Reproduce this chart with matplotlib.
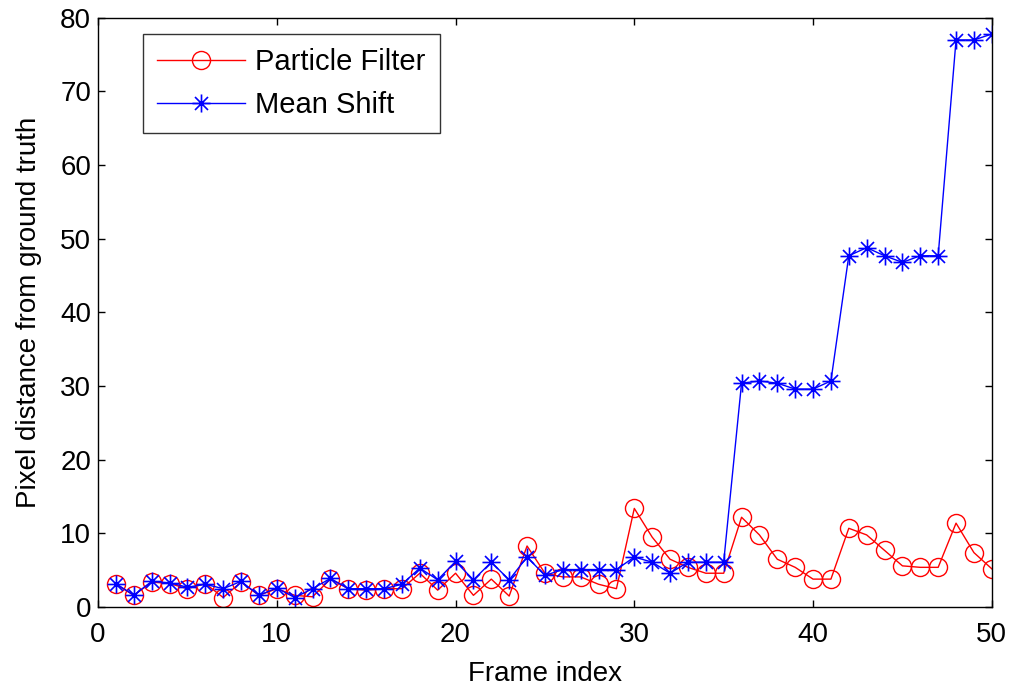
import matplotlib
matplotlib.use("Agg")
import matplotlib.pyplot as plt
from matplotlib.path import Path
import numpy as np

plt.rcParams["font.family"] = ["Liberation Sans", "DejaVu Sans"]

# ---- data ----
frames = np.arange(1, 51)
particle_filter = [3.1, 1.6, 3.4, 3.2, 2.5, 3.2, 1.3, 3.4, 1.6, 2.5,
                   1.6, 1.4, 3.8, 2.5, 2.3, 2.5, 2.5, 4.6, 2.3, 4.6,
                   1.6, 3.8, 1.5, 8.3, 4.6, 4.1, 4.1, 3.1, 2.5, 13.4,
                   9.5, 6.5, 5.4, 4.6, 4.6, 12.2, 9.8, 6.5, 5.4, 3.8,
                   3.8, 10.7, 9.8, 7.7, 5.6, 5.4, 5.4, 11.4, 7.4, 5.2]
mean_shift = [3.2, 1.6, 3.5, 3.3, 2.7, 3.1, 2.5, 3.5, 1.6, 2.6,
              1.3, 2.5, 3.9, 2.5, 2.5, 2.5, 3.1, 5.3, 3.7, 6.2,
              3.7, 6.1, 3.7, 6.8, 4.3, 5.1, 5.1, 5.1, 5.1, 6.8,
              6.1, 4.6, 6.1, 6.1, 6.1, 30.4, 30.7, 30.4, 29.6, 29.6,
              30.7, 47.7, 48.8, 47.7, 46.8, 47.7, 47.7, 77.0, 77.0, 77.8]

# matlab-like asterisk marker (+ and x overlaid)
d = 0.72
asterisk = Path([(0, -1), (0, 1), (-1, 0), (1, 0),
                 (-d, -d), (d, d), (-d, d), (d, -d)],
                [Path.MOVETO, Path.LINETO] * 4)

# ---- plot ----
fig = plt.figure(figsize=(10.11, 6.86), dpi=100)
ax = fig.add_axes([0.097, 0.115, 0.884, 0.859])

ax.plot(frames, particle_filter, "-o", color="r", linewidth=1,
        markersize=13, markerfacecolor="none", markeredgewidth=1,
        label="Particle Filter")
ax.plot(frames, mean_shift, "-", marker=asterisk, color="b", linewidth=1,
        markersize=13, markeredgewidth=1.2, label="Mean Shift")

ax.set_xlim(0, 50)
ax.set_ylim(0, 80)
ax.set_xticks(np.arange(0, 51, 10))
ax.set_yticks(np.arange(0, 81, 10))

ax.tick_params(direction="in", top=True, right=True, length=5, width=1,
               labelsize=20, pad=5)
ax.tick_params(axis="x", pad=11)
for s in ax.spines.values():
    s.set_linewidth(1)

ax.set_xlabel("Frame index", fontsize=20, labelpad=9)
ax.set_ylabel("Pixel distance from ground truth", fontsize=20, labelpad=13)

leg = ax.legend(loc="upper left", bbox_to_anchor=(0.05, 0.973),
                fontsize=21, frameon=True, fancybox=False,
                borderaxespad=0, handlelength=3.0, borderpad=0.5,
                labelspacing=0.5, handletextpad=0.35)
leg.get_frame().set_edgecolor("k")
leg.get_frame().set_linewidth(1)

plt.savefig("out.png", dpi=100)
